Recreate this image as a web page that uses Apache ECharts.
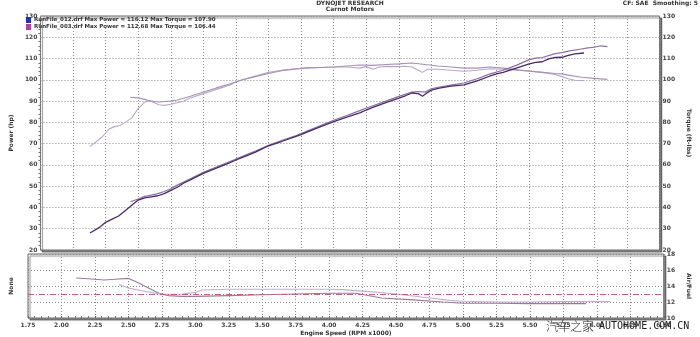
<!DOCTYPE html>
<html>
<head>
<meta charset="utf-8">
<script src="https://cdn.jsdelivr.net/npm/echarts@6/dist/echarts.min.js"></script>
<style>
html,body{margin:0;padding:0;background:#fff;}
#c{width:700px;height:337px;}
</style>
</head>
<body>
<div id="c"></div>
<script>
// ---- Data ----
const xTicks = [1.75, 6.5, 0.25];            // engine speed axis (RPM x1000): min, max, step
const hpTicks = [20, 130, 10];               // power / torque axis
const afrTicks = [10, 18, 2];                // air/fuel axis
const afrTarget = 13;                        // dash-dot reference line

const legend012 = 'RunFile_012.drf Max Power = 116.12 Max Torque = 107.90';
const legend003 = 'RunFile_003.drf Max Power = 112.68 Max Torque = 106.44';

// Run 003 power (dark)
const rpmPow003 = [2.13,2.20,2.25,2.30,2.35,2.40,2.45,2.50,2.55,2.60,2.65,2.70,2.75,2.80,2.85,2.90,3.00,3.10,3.20,3.25,3.30,3.40,3.50,3.60,3.70,3.75,3.80,3.90,4.00,4.10,4.20,4.25,4.30,4.40,4.50,4.55,4.60,4.65,4.68,4.72,4.75,4.80,4.90,5.00,5.10,5.20,5.25,5.30,5.40,5.50,5.55,5.60,5.65,5.70,5.75,5.80,5.85,5.92];
const pow003    = [28.0,30.5,33.0,34.5,36.0,38.5,41.0,43.5,44.5,45.0,45.5,46.5,48.0,49.5,51.5,53.0,56.0,58.5,61.0,62.3,63.5,66.0,69.0,71.0,73.2,74.2,75.5,78.0,80.3,82.5,84.5,85.8,87.0,89.3,91.4,92.5,93.8,93.5,92.3,94.0,95.2,96.0,97.0,97.6,99.5,101.8,102.8,103.5,105.5,107.5,108.2,108.5,109.8,110.5,110.6,111.5,112.2,112.6];

// Run 012 power (medium)
const rpmPow012 = [2.44,2.50,2.55,2.60,2.65,2.70,2.75,2.80,2.90,3.00,3.10,3.20,3.30,3.40,3.50,3.60,3.70,3.80,3.90,4.00,4.10,4.20,4.30,4.40,4.50,4.60,4.65,4.70,4.75,4.80,4.90,5.00,5.10,5.20,5.30,5.40,5.50,5.55,5.60,5.70,5.75,5.80,5.90,5.95,6.00,6.05,6.10];
const pow012    = [42.7,44.0,45.2,45.8,46.5,47.5,48.8,50.5,53.5,56.5,59.0,61.5,64.0,66.5,69.2,71.5,73.5,76.0,78.5,81.0,83.2,85.5,87.8,90.0,92.2,94.2,94.5,94.2,95.8,96.5,97.5,98.5,100.5,102.8,104.5,106.8,109.5,110.2,110.5,112.3,112.8,113.5,114.5,115.0,115.3,116.0,115.6];

// Run 003 torque
const rpmTq003 = [2.13,2.18,2.22,2.25,2.28,2.32,2.36,2.40,2.45,2.50,2.55,2.58,2.62,2.66,2.70,2.75,2.80,2.85,2.90,3.00,3.10,3.20,3.25,3.30,3.40,3.50,3.60,3.70,3.80,3.90,4.00,4.10,4.20,4.25,4.30,4.35,4.40,4.50,4.55,4.60,4.65,4.68,4.72,4.80,4.90,5.00,5.10,5.20,5.30,5.40,5.50,5.60,5.70,5.75,5.80,5.85,5.92];
const tq003    = [68.6,71.0,73.0,75.0,77.0,78.0,78.5,80.0,82.0,86.5,89.5,90.3,89.3,88.3,88.0,88.5,89.2,90.0,91.5,93.5,95.5,97.5,99.0,100.0,101.8,103.5,104.5,105.2,105.6,105.8,106.0,106.0,105.5,106.2,105.0,106.0,106.3,106.2,106.4,106.0,104.5,103.5,105.0,105.0,104.5,104.0,104.5,105.2,105.0,104.5,104.2,103.5,102.5,101.5,100.5,99.8,99.6];

// Run 012 torque
const rpmTq012 = [2.44,2.50,2.55,2.58,2.62,2.66,2.70,2.75,2.80,2.90,3.00,3.10,3.20,3.30,3.40,3.50,3.60,3.70,3.80,3.90,4.00,4.10,4.20,4.30,4.40,4.50,4.60,4.70,4.80,4.90,5.00,5.10,5.20,5.30,5.40,5.50,5.60,5.70,5.75,5.80,5.90,6.00,6.10];
const tq012    = [91.8,91.5,90.8,90.2,89.8,89.6,89.8,90.0,90.5,92.3,94.3,96.2,98.0,100.0,101.5,103.0,104.3,105.0,105.6,105.8,106.0,106.5,107.0,106.8,107.2,107.5,107.9,107.2,106.5,106.0,105.5,105.5,106.0,105.5,104.8,104.0,103.5,103.0,102.8,102.2,101.2,100.7,100.2];

// Air/fuel
const rpmAfr003 = [2.11,2.20,2.32,2.40,2.50,2.55,2.61,2.68,2.73,2.80,2.90,3.00,3.25,3.50,3.75,4.00,4.20,4.39,4.60,4.85,5.00,5.25,5.50,5.75,5.92];
const afr003    = [15.0,14.9,14.75,14.85,14.95,14.6,14.1,13.5,13.1,12.8,12.7,12.7,12.8,12.9,13.0,13.1,13.1,12.5,12.3,12.0,11.85,11.85,11.8,11.8,11.8];
const rpmAfr012 = [2.43,2.51,2.60,2.75,2.90,3.00,3.05,3.25,3.50,4.00,4.10,4.30,4.50,4.75,4.90,5.00,5.25,5.50,5.75,6.00,6.10];
const afr012    = [14.2,13.7,13.4,12.95,13.0,13.2,13.5,13.6,13.6,13.6,13.55,13.3,13.0,12.5,12.2,12.1,12.0,12.0,12.05,12.05,12.05];

const zip = (xs, ys) => xs.map((x, i) => [x, ys[i]]);

// ---- Chart ----
const chart = echarts.init(document.getElementById('c'), null, {renderer: 'canvas'});
const FONT = 'DejaVu Sans';
const lblStyle = {fontSize: 6, fontWeight: 'bold', color: '#444', fontFamily: FONT};
const dotted = {show: true, lineStyle: {color: '#8a8a8a', type: [1, 2], width: 1}};
const gridBase = {
  left: 25, right: 23, show: true, backgroundColor: '#fff',
  borderColor: '#666', borderWidth: 1,
  shadowColor: 'rgba(0,0,0,0.45)', shadowBlur: 1, shadowOffsetX: 2, shadowOffsetY: 2
};
function lineSeries(name, data, color, xi, yi, w) {
  return {name, type: 'line', data, xAxisIndex: xi, yAxisIndex: yi, showSymbol: false,
    symbol: 'none', smooth: false, lineStyle: {color, width: w || 1.2}, itemStyle: {color},
    animation: false, z: 3};
}
const xAxisCommon = {type: 'value', min: xTicks[0], max: xTicks[1], interval: xTicks[2]};

chart.setOption({
  backgroundColor: '#fff',
  animation: false,
  textStyle: {fontFamily: FONT},
  title: [
    {text: 'DYNOJET RESEARCH', left: 'center', top: 0, textStyle: {fontSize: 6, fontWeight: 'bold', color: '#333', fontFamily: FONT}, padding: 0},
    {text: 'Carnot Motors', left: 'center', top: 6, textStyle: {fontSize: 6, fontWeight: 'bold', color: '#333', fontFamily: FONT}, padding: 0},
    {text: 'CF: SAE  Smoothing: 5', right: 2, top: 0, textStyle: {fontSize: 6, fontWeight: 'bold', color: '#333', fontFamily: FONT}, padding: 0}
  ],
  legend: {
    orient: 'vertical', left: 26, top: 17, padding: 0, itemGap: 1,
    itemWidth: 5, itemHeight: 6, icon: 'rect',
    textStyle: {fontSize: 5.5, fontWeight: 'bold', color: '#333', fontFamily: FONT, padding: [0,0,0,-2]},
    data: [
      {name: legend012, itemStyle: {color: '#2430b0'}},
      {name: legend003, itemStyle: {color: '#a8439a'}}
    ]
  },
  grid: [
    Object.assign({top: 16, height: 234}, gridBase),
    Object.assign({top: 254, height: 64}, gridBase)
  ],
  xAxis: [
    Object.assign({gridIndex: 0, axisLine: {show: false}, axisTick: {show: false},
      axisLabel: {show: false}, splitLine: dotted}, xAxisCommon),
    Object.assign({gridIndex: 1, axisLine: {show: false},
      axisTick: {show: true, inside: true, length: 2, lineStyle: {color: '#666'}},
      minorTick: {show: true, splitNumber: 5, length: 2, lineStyle: {color: '#777'}},
      axisLabel: Object.assign({margin: 4, formatter: v => v.toFixed(2)}, lblStyle),
      splitLine: dotted,
      name: 'Engine Speed (RPM x1000)', nameLocation: 'middle', nameGap: 12,
      nameTextStyle: {fontSize: 6, fontWeight: 'bold', color: '#333', fontFamily: FONT}}, xAxisCommon)
  ],
  yAxis: [
    {gridIndex: 0, type: 'value', position: 'left', min: hpTicks[0], max: hpTicks[1], interval: hpTicks[2],
      axisLine: {show: false}, axisTick: {show: false},
      minorTick: {show: true, splitNumber: 5, length: 2, lineStyle: {color: '#777'}},
      axisLabel: Object.assign({margin: 3}, lblStyle), splitLine: dotted,
      name: 'Power (hp)', nameLocation: 'middle', nameGap: 14,
      nameTextStyle: {fontSize: 6, fontWeight: 'bold', color: '#333', fontFamily: FONT}},
    {gridIndex: 0, type: 'value', position: 'right', min: hpTicks[0], max: hpTicks[1], interval: hpTicks[2],
      axisLine: {show: false}, axisTick: {show: false},
      minorTick: {show: true, splitNumber: 10, length: 2, lineStyle: {color: '#777'}},
      axisLabel: Object.assign({margin: 3}, lblStyle), splitLine: {show: false},
      name: 'Torque (ft-lbs)', nameLocation: 'middle', nameGap: 16, nameRotate: -90,
      nameTextStyle: {fontSize: 6, fontWeight: 'bold', color: '#333', fontFamily: FONT}},
    {gridIndex: 1, type: 'value', position: 'left', min: afrTicks[0], max: afrTicks[1], interval: afrTicks[2],
      axisLine: {show: false}, axisTick: {show: false}, axisLabel: {show: false}, splitLine: dotted,
      name: 'None', nameLocation: 'middle', nameGap: 14,
      nameTextStyle: {fontSize: 6, fontWeight: 'bold', color: '#333', fontFamily: FONT}},
    {gridIndex: 1, type: 'value', position: 'right', min: afrTicks[0], max: afrTicks[1], interval: afrTicks[2],
      axisLine: {show: false}, axisTick: {show: false},
      axisLabel: Object.assign({margin: 3}, lblStyle), splitLine: {show: false},
      name: 'Air/Fuel', nameLocation: 'middle', nameGap: 14, nameRotate: -90,
      nameTextStyle: {fontSize: 6, fontWeight: 'bold', color: '#333', fontFamily: FONT}}
  ],
  series: [
    lineSeries('tq003', zip(rpmTq003, tq003), '#b8a8c8', 0, 1, 1.1),
    lineSeries('tq012', zip(rpmTq012, tq012), '#a690b6', 0, 1, 1.1),
    lineSeries(legend012, zip(rpmPow012, pow012), '#8a70a0', 0, 0, 1.2),
    lineSeries(legend003, zip(rpmPow003, pow003), '#4a2a66', 0, 0, 1.3),
    Object.assign(lineSeries('afr003', zip(rpmAfr003, afr003), '#9a7a9c', 1, 3, 1.1), {
      markLine: {silent: true, symbol: 'none', label: {show: false},
        lineStyle: {color: '#c0607a', type: [6, 2, 1, 2], width: 1},
        data: [{yAxis: afrTarget}]}
    }),
    lineSeries('afr012', zip(rpmAfr012, afr012), '#c4acd4', 1, 3, 1.1)
  ],
  graphic: [
    {type: 'text', left: 546, top: 320, z: 100,
      style: {text: '汽车之家', fontSize: 12, fontFamily: 'Noto Sans CJK SC', fill: '#222', fontWeight: 300}},
    {type: 'text', left: 599, top: 321, z: 100,
      style: {text: 'AUTOHOME.COM.CN', fontSize: 10, fontFamily: 'DejaVu Sans Mono', fill: '#222'}}
  ]
});
</script>
</body>
</html>
